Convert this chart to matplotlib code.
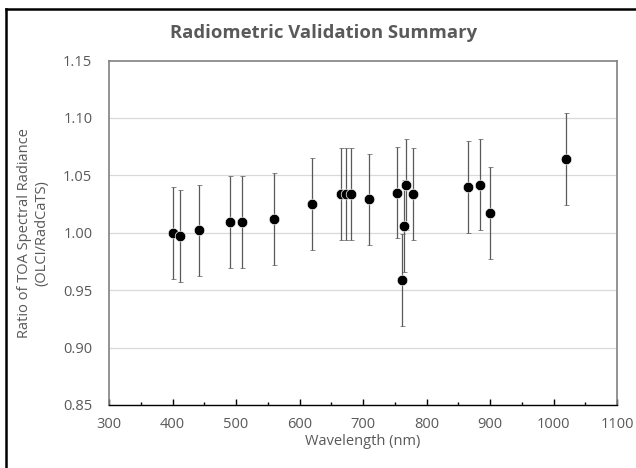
import matplotlib.pyplot as plt
from matplotlib.lines import Line2D
from matplotlib.ticker import MultipleLocator, FormatStrFormatter

plt.rcParams['font.family'] = ['Open Sans', 'DejaVu Sans']

# OLCI band centres (nm) and ratio OLCI / RadCaTS
wavelength = [400, 412.5, 442.5, 490, 510, 560, 620, 665, 673.75, 681.25,
              708.75, 753.75, 761.25, 764.375, 767.5, 778.75, 865, 885, 900, 1020]
ratio = [1.000, 0.997, 1.002, 1.009, 1.009, 1.012, 1.025, 1.034, 1.034, 1.034,
         1.029, 1.035, 0.959, 1.006, 1.042, 1.034, 1.040, 1.042, 1.017, 1.064]
uncert = [0.04] * len(wavelength)

text_col = '#595959'

fig = plt.figure(figsize=(6.36, 4.68), dpi=100)
ax = fig.add_axes([109 / 636, 1 - 405 / 468, (617 - 109) / 636, (405 - 60.5) / 468])

ax.yaxis.grid(True, color='#d9d9d9', linewidth=0.9, zorder=0)
ax.errorbar(wavelength, ratio, yerr=uncert, fmt='o', color='black',
            markersize=7.6, markeredgecolor='white', markeredgewidth=0.5,
            ecolor='#595959', elinewidth=0.9, capsize=1.8, capthick=0.9, zorder=3)

ax.set_xlim(300, 1100)
ax.set_ylim(0.85, 1.15)
ax.xaxis.set_major_locator(MultipleLocator(100))
ax.xaxis.set_minor_locator(MultipleLocator(50))
ax.yaxis.set_major_locator(MultipleLocator(0.05))
ax.yaxis.set_major_formatter(FormatStrFormatter('%.2f'))

for side in ['top', 'right', 'left']:
    ax.spines[side].set_color('#808080')
    ax.spines[side].set_linewidth(1.2)
ax.spines['bottom'].set_color('black')
ax.spines['bottom'].set_linewidth(1.0)

ax.tick_params(axis='x', which='major', direction='in', length=4, width=1,
               color='black', labelsize=10.5, labelcolor=text_col, pad=9)
ax.tick_params(axis='x', which='minor', direction='in', length=2.5, width=1,
               color='black')
ax.tick_params(axis='y', length=0, labelsize=10.5, labelcolor=text_col, pad=12)

ax.set_xlabel('Wavelength (nm)', fontsize=10.5, color=text_col, labelpad=1)
ax.set_ylabel('Ratio of TOA Spectral Radiance\n(OLCI/RadCaTS)', fontsize=10.5,
              color=text_col, labelpad=10)

fig.text(324 / 636, 1 - 33 / 468, 'Radiometric Validation Summary', ha='center',
         va='center', fontsize=13.3, fontweight='bold', color=text_col)

# outer chart border (left and top visible)
fig.add_artist(Line2D([6 / 636, 6 / 636], [0, 1 - 9 / 468], transform=fig.transFigure,
                      color='black', linewidth=1.8))
fig.add_artist(Line2D([6 / 636, 1], [1 - 9 / 468, 1 - 9 / 468], transform=fig.transFigure,
                      color='black', linewidth=1.8))

fig.savefig('out.png', dpi=100)
